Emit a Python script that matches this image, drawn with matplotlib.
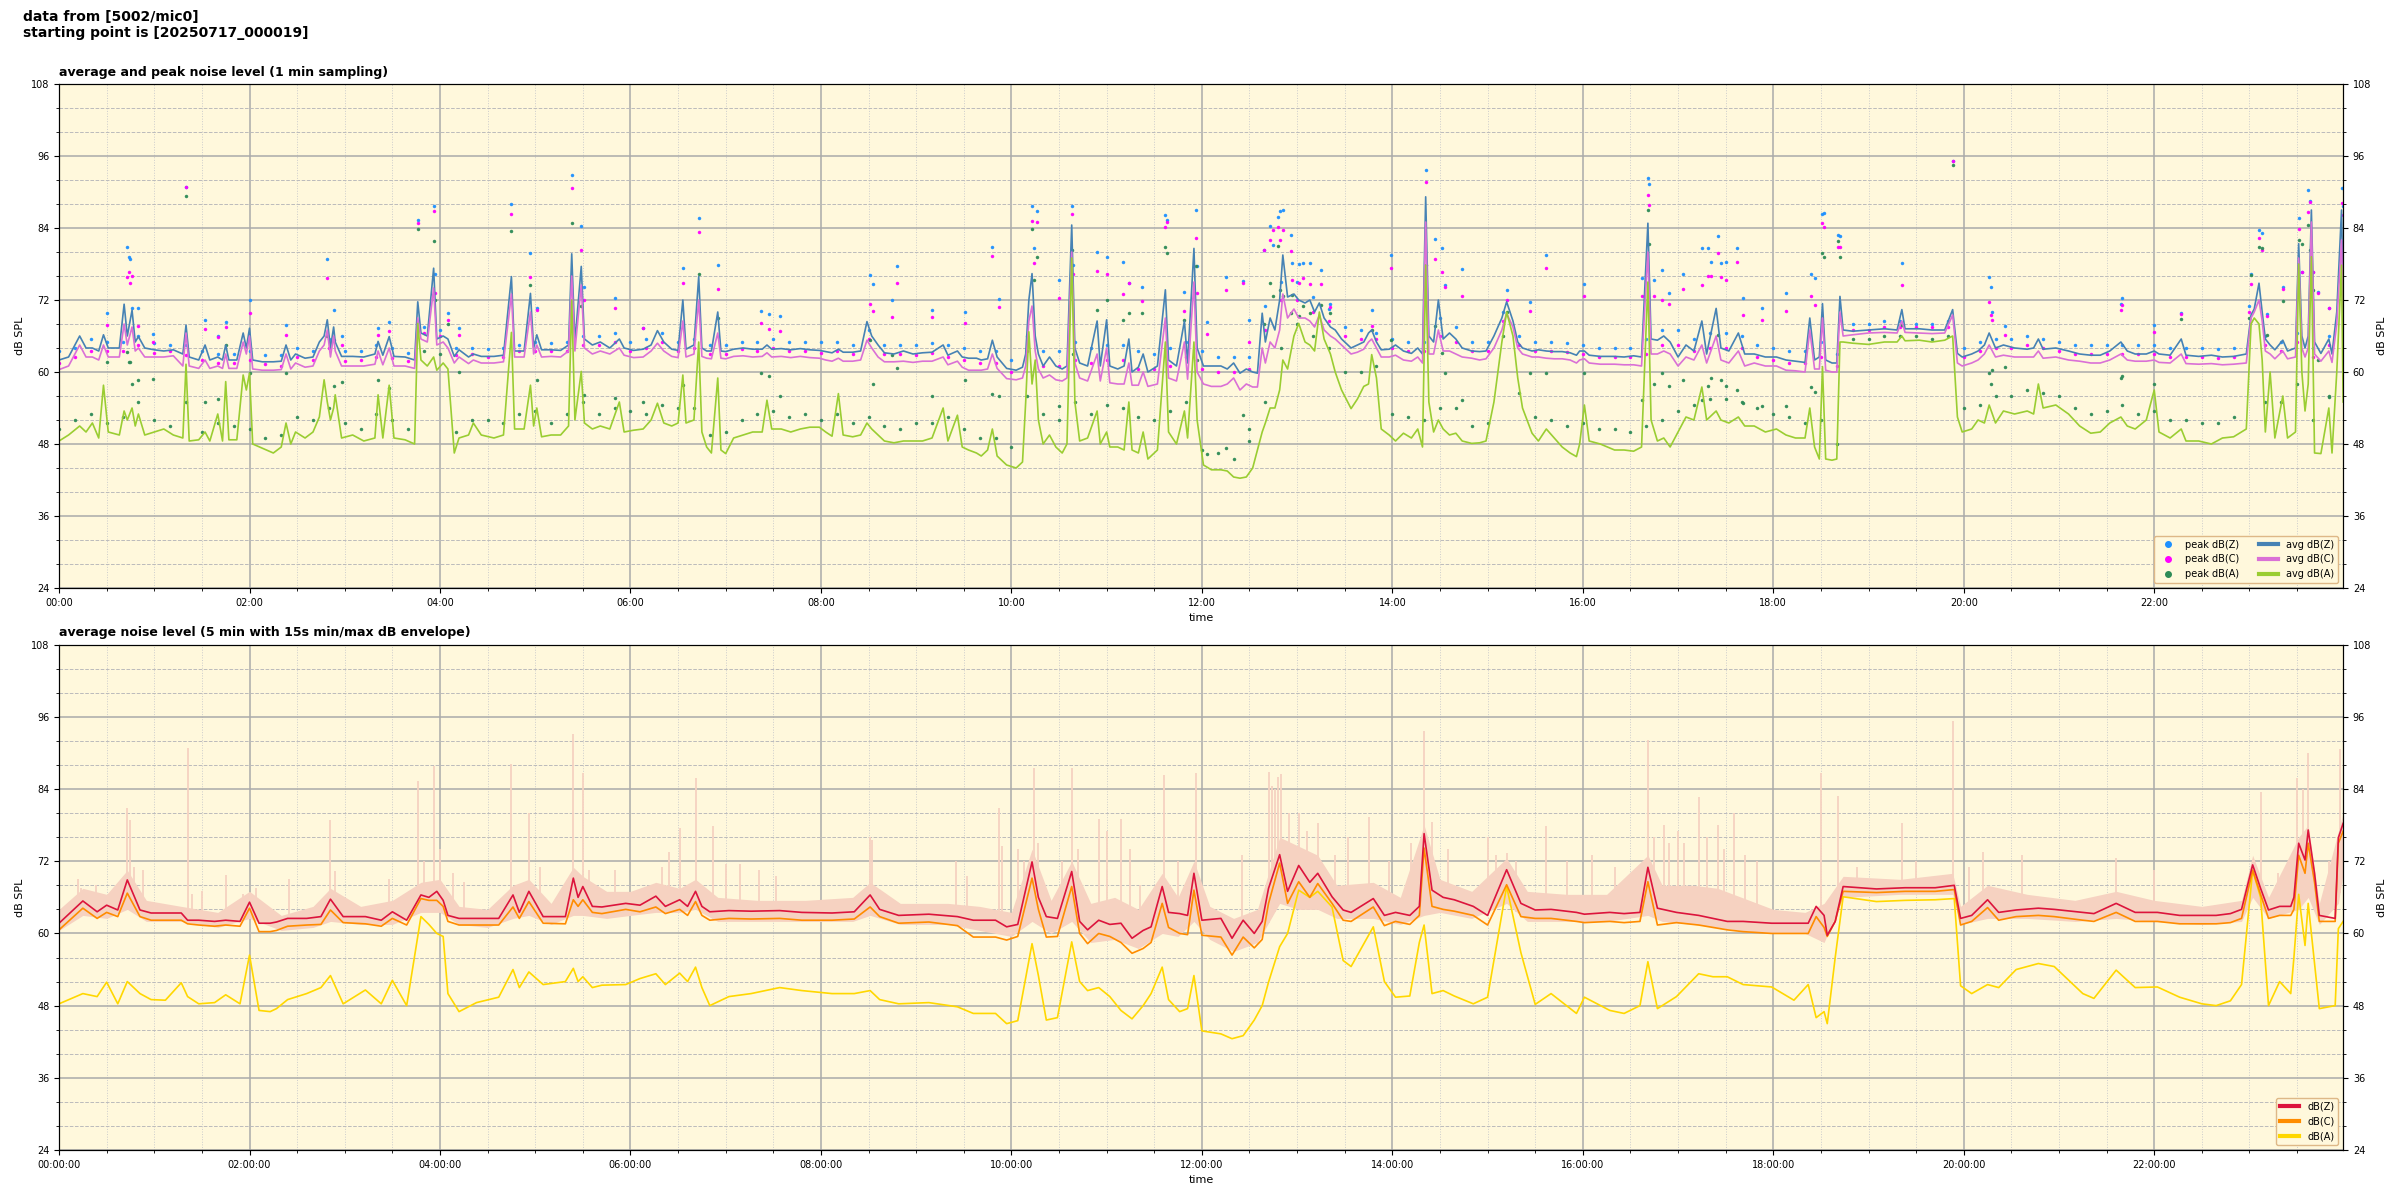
import numpy as np
import matplotlib
matplotlib.use("Agg")
import matplotlib.pyplot as plt
from matplotlib.lines import Line2D
from matplotlib.ticker import MultipleLocator, FuncFormatter

# ---- top panel: 1 min averages (minutes after midnight) ----
top_t = [0, 6, 13, 17, 21, 25, 28, 31, 38, 41,
         43, 46, 48, 50, 54, 60, 66, 72, 78, 80,
         82, 88, 92, 95, 100, 103, 105, 107, 112, 116,
         118, 120, 122, 128, 135, 140, 143, 146, 149, 155,
         160, 164, 167, 169, 171, 173, 174, 178, 185, 192,
         199, 201, 204, 208, 211, 218, 224, 226, 228, 232,
         236, 238, 242, 245, 249, 252, 258, 261, 266, 274,
         280, 285, 287, 293, 297, 299, 301, 304, 310, 316,
         321, 323, 325, 329, 331, 336, 341, 347, 353, 356,
         362, 368, 373, 377, 381, 386, 390, 393, 395, 400,
         403, 405, 408, 411, 415, 417, 420, 425, 431, 437,
         443, 446, 449, 455, 461, 467, 473, 479, 483, 487,
         491, 494, 500, 505, 509, 512, 516, 520, 526, 532,
         538, 544, 550, 557, 560, 566, 569, 573, 578, 581,
         585, 588, 591, 597, 603, 607, 609, 611, 613, 615,
         617, 620, 624, 628, 632, 635, 638, 640, 643, 648,
         654, 656, 660, 662, 667, 671, 674, 676, 680, 683,
         686, 692, 697, 699, 704, 709, 711, 715, 717, 721,
         726, 732, 736, 740, 744, 748, 752, 755, 758, 760,
         763, 766, 769, 771, 774, 778, 781, 785, 788, 791,
         794, 797, 801, 804, 808, 814, 818, 822, 825, 827,
         830, 833, 838, 842, 847, 852, 856, 859, 861, 863,
         866, 869, 872, 876, 880, 884, 890, 895, 899, 904,
         909, 912, 916, 919, 922, 928, 932, 937, 942, 947,
         952, 956, 958, 961, 964, 971, 980, 986, 992, 997,
         1001, 1003, 1007, 1011, 1015, 1020, 1025, 1030, 1035, 1038,
         1044, 1047, 1052, 1058, 1062, 1068, 1075, 1082, 1088, 1094,
         1100, 1103, 1106, 1109, 1111, 1113, 1117, 1120, 1122, 1124,
         1130, 1140, 1150, 1158, 1161, 1163, 1172, 1180, 1188, 1193,
         1196, 1199, 1205, 1209, 1213, 1216, 1220, 1225, 1232, 1240,
         1244, 1247, 1250, 1258, 1266, 1273, 1280, 1286, 1292, 1299,
         1303, 1308, 1315, 1320, 1323, 1330, 1337, 1340, 1348, 1356,
         1363, 1370, 1378, 1381, 1383, 1386, 1388, 1390, 1393, 1396,
         1401, 1404, 1409, 1411, 1413, 1415, 1417, 1419, 1421, 1425,
         1430, 1432, 1435, 1438, 1439]
top_z = [62.0, 62.5, 66.0, 64.0, 64.0, 63.5, 66.2, 64.0, 64.0, 71.3,
         66.0, 70.3, 65.0, 65.9, 64.0, 63.7, 63.5, 63.7, 63.0, 67.8,
         62.5, 62.0, 64.5, 62.0, 62.5, 62.0, 64.5, 62.0, 62.0, 66.5,
         64.0, 67.3, 62.0, 61.7, 61.7, 61.8, 64.5, 62.0, 63.0, 62.3,
         62.5, 65.0, 66.0, 68.7, 64.0, 67.5, 65.0, 62.6, 62.6, 62.5,
         63.0, 65.1, 62.8, 65.9, 62.6, 62.5, 62.0, 71.7, 66.5, 66.0,
         77.3, 65.5, 66.0, 65.5, 62.6, 63.7, 62.5, 63.0, 62.6, 62.6,
         62.8, 75.9, 63.5, 63.5, 73.1, 64.0, 66.2, 63.7, 63.7, 63.6,
         64.5, 79.7, 65.0, 77.6, 65.5, 64.5, 65.0, 64.0, 65.5, 64.0,
         63.6, 63.8, 64.5, 66.9, 65.0, 63.8, 63.6, 72.0, 63.8, 64.5,
         75.9, 64.0, 63.5, 63.5, 70.0, 63.5, 63.4, 63.8, 64.0, 63.8,
         63.8, 64.5, 63.8, 63.9, 63.7, 63.9, 63.7, 63.6, 63.4, 63.2,
         63.8, 63.3, 63.3, 63.5, 68.4, 66.0, 64.5, 63.2, 63.0, 63.5,
         63.0, 63.2, 63.3, 64.5, 62.8, 63.5, 62.5, 62.3, 62.3, 62.0,
         62.2, 65.3, 62.5, 60.6, 60.3, 60.8, 63.0, 72.0, 76.4, 66.0,
         63.0, 61.0, 62.5, 61.0, 60.5, 61.0, 84.5, 64.0, 61.5, 61.0,
         68.5, 61.0, 68.7, 61.0, 60.5, 61.0, 65.5, 60.0, 60.8, 63.0,
         60.0, 61.0, 73.7, 62.0, 61.0, 68.5, 61.5, 80.6, 64.0, 61.0,
         61.0, 61.0, 60.5, 61.5, 59.8, 60.5, 60.0, 59.8, 69.8, 65.0,
         69.0, 67.0, 72.0, 79.5, 72.5, 73.0, 72.0, 71.5, 72.0, 70.0,
         71.5, 69.0, 67.5, 67.0, 65.5, 64.0, 64.5, 65.0, 66.5, 67.0,
         65.0, 63.7, 63.8, 64.5, 63.5, 63.1, 64.0, 63.0, 89.2, 66.0,
         65.0, 72.0, 65.5, 66.5, 65.5, 64.0, 63.5, 63.4, 63.5, 66.0,
         69.0, 71.7, 68.5, 65.0, 64.0, 63.5, 63.7, 63.5, 63.4, 63.4,
         63.2, 62.8, 63.5, 63.5, 62.8, 62.6, 62.6, 62.5, 62.7, 62.5,
         84.8, 65.5, 65.3, 66.0, 65.0, 62.5, 64.5, 63.5, 68.5, 63.0,
         70.6, 64.0, 63.5, 66.5, 63.0, 63.0, 62.5, 62.5, 62.0, 61.8,
         61.6, 69.0, 62.0, 62.5, 71.4, 62.0, 61.5, 61.5, 72.6, 67.0,
         66.8, 67.0, 67.2, 67.0, 70.4, 67.2, 67.2, 67.0, 67.0, 70.4,
         63.1, 62.5, 63.0, 63.5, 64.5, 66.5, 64.0, 64.5, 64.0, 63.8,
         64.0, 65.5, 63.8, 64.0, 63.5, 63.0, 62.8, 62.8, 63.5, 65.0,
         63.5, 63.0, 63.0, 63.5, 63.0, 62.8, 65.5, 62.8, 62.6, 62.8,
         62.5, 62.6, 63.0, 69.5, 70.5, 74.8, 70.0, 65.5, 64.5, 63.7,
         65.3, 63.5, 64.0, 81.4, 66.0, 64.0, 66.0, 87.0, 65.0, 63.1,
         65.5, 63.0, 70.0, 87.0, 72.0]
top_c = [60.4, 61.0, 64.5, 62.5, 62.5, 62.0, 64.5, 62.5, 62.5, 68.0,
         64.5, 67.5, 63.5, 64.0, 62.5, 62.5, 62.5, 62.7, 61.0, 66.5,
         61.0, 60.6, 62.0, 60.6, 61.0, 60.6, 63.0, 60.6, 60.6, 65.0,
         63.0, 66.0, 60.5, 60.3, 60.3, 60.4, 63.0, 60.5, 61.5, 60.8,
         61.0, 63.5, 64.5, 67.0, 62.5, 66.0, 63.5, 61.0, 61.0, 61.0,
         61.3, 63.5, 61.2, 64.0, 61.0, 61.0, 60.6, 69.0, 65.5, 65.0,
         74.0, 64.5, 65.0, 64.0, 61.5, 62.5, 61.4, 62.0, 61.5, 61.5,
         61.7, 73.0, 62.5, 62.5, 70.0, 63.0, 64.5, 62.5, 62.6, 62.5,
         63.5, 76.0, 63.5, 74.5, 64.0, 63.0, 63.5, 63.0, 64.0, 62.8,
         62.4, 62.5, 63.5, 64.8, 63.5, 62.6, 62.4, 68.5, 62.5, 63.0,
         72.0, 62.6, 62.3, 62.2, 66.5, 62.3, 62.2, 62.6, 62.7, 62.5,
         62.6, 63.2, 62.5, 62.6, 62.4, 62.6, 62.4, 62.3, 62.0, 61.8,
         62.3, 61.8, 61.8, 62.0, 65.3, 64.0, 62.5, 61.7, 61.7, 61.8,
         61.6, 61.8, 61.8, 62.5, 61.2, 61.8, 60.8, 60.3, 60.3, 60.3,
         60.5, 63.0, 60.6, 58.9, 58.7, 59.0, 61.0, 68.5, 71.0, 63.5,
         60.5, 59.0, 59.5, 58.7, 58.5, 59.0, 80.0, 61.5, 59.0, 58.5,
         63.0, 58.5, 64.0, 58.2, 58.0, 58.0, 61.5, 57.8, 57.8, 60.0,
         57.6, 58.0, 69.0, 59.0, 58.5, 65.0, 58.8, 75.0, 60.0, 58.0,
         57.6, 57.6, 58.0, 59.0, 57.0, 58.0, 57.5, 57.5, 64.0, 61.5,
         65.0, 64.0, 67.0, 73.0, 69.0, 70.5, 69.0, 69.0, 68.5, 67.5,
         69.5, 67.0, 66.0, 65.5, 64.5, 63.0, 63.3, 63.8, 65.0, 65.5,
         64.0, 62.5, 62.5, 62.8, 62.0, 61.8, 62.5, 61.5, 85.0, 63.0,
         63.0, 67.0, 63.5, 63.5, 63.0, 62.5, 62.3, 62.0, 62.2, 64.0,
         67.0, 69.8, 67.5, 64.0, 63.0, 62.5, 62.5, 62.3, 62.2, 62.2,
         62.0, 61.5, 62.0, 62.2, 61.5, 61.3, 61.3, 61.2, 61.2, 61.0,
         80.0, 63.0, 63.0, 63.5, 63.0, 61.0, 62.5, 62.0, 64.5, 61.5,
         66.0, 62.0, 61.5, 63.5, 61.0, 61.5, 61.0, 61.0, 60.3, 60.2,
         60.0, 67.0, 60.5, 60.5, 69.0, 60.3, 60.0, 60.0, 70.0, 66.0,
         66.2, 66.5, 66.6, 66.5, 68.5, 66.6, 66.5, 66.4, 66.5, 69.5,
         61.5, 61.0, 61.5, 62.0, 63.0, 64.5, 62.5, 62.8, 62.5, 62.5,
         62.5, 63.5, 62.3, 62.5, 62.0, 61.8, 61.5, 61.5, 62.0, 63.0,
         62.0, 61.8, 61.8, 62.0, 61.6, 61.5, 63.0, 61.4, 61.3, 61.4,
         61.2, 61.3, 61.5, 69.0, 70.0, 72.0, 68.5, 63.5, 63.0, 62.2,
         63.5, 62.2, 62.5, 79.0, 64.0, 62.5, 64.0, 85.0, 63.0, 61.8,
         63.5, 61.6, 68.0, 82.0, 70.0]
top_a = [48.5, 49.5, 51.0, 50.0, 51.5, 49.0, 57.8, 50.0, 49.5, 53.5,
         52.0, 54.0, 51.0, 53.0, 49.5, 50.0, 50.5, 49.5, 49.0, 61.3,
         48.5, 48.7, 50.0, 48.5, 53.0, 48.5, 58.4, 48.7, 48.7, 59.5,
         57.0, 59.8, 48.0, 47.3, 46.5, 47.5, 51.5, 48.0, 50.0, 49.0,
         50.0, 52.5, 58.7, 55.0, 52.0, 54.0, 56.2, 49.0, 49.5, 48.5,
         49.0, 56.2, 49.0, 57.8, 49.0, 48.7, 48.0, 68.1, 62.0, 61.0,
         62.5, 60.3, 61.5, 60.5, 46.5, 49.0, 49.5, 51.5, 49.5, 49.0,
         49.5, 66.6, 50.5, 50.5, 57.8, 51.0, 54.0, 49.2, 49.5, 49.5,
         51.0, 72.0, 52.0, 60.1, 51.5, 50.5, 51.0, 50.5, 55.0, 50.0,
         50.3, 50.5, 52.0, 54.8, 51.5, 51.0, 51.5, 59.5, 51.5, 52.0,
         65.0, 50.0, 47.5, 46.5, 59.0, 47.0, 46.4, 49.0, 49.5, 50.0,
         50.0, 55.3, 50.5, 50.5, 50.0, 50.5, 50.8, 50.8, 50.0, 49.3,
         56.4, 49.5, 49.2, 49.5, 51.5, 50.5, 49.5, 48.5, 48.2, 48.5,
         48.5, 48.5, 49.0, 54.0, 48.5, 52.8, 47.5, 47.0, 46.5, 46.0,
         47.0, 50.5, 46.0, 44.5, 44.0, 45.0, 55.0, 66.7, 58.0, 62.0,
         52.0, 48.0, 49.5, 47.5, 46.5, 48.0, 79.0, 55.0, 48.5, 49.0,
         53.5, 48.0, 50.0, 47.5, 47.5, 47.0, 55.0, 47.0, 46.5, 50.0,
         45.5, 47.0, 65.0, 50.0, 48.0, 53.5, 49.0, 65.0, 52.0, 44.5,
         43.7, 43.7, 43.5, 42.5, 42.3, 42.5, 44.0, 47.0, 50.0, 51.5,
         54.0, 54.0, 57.0, 62.0, 60.5, 66.0, 68.1, 65.0, 64.5, 63.5,
         70.0, 65.5, 63.0, 60.0, 57.0, 53.9, 55.5, 57.6, 58.0, 62.9,
         59.0, 50.5, 49.5, 48.5, 49.8, 49.0, 50.5, 47.5, 77.8, 55.0,
         50.0, 52.0, 50.5, 49.5, 49.8, 48.5, 48.1, 48.2, 48.5, 55.0,
         65.0, 70.0, 66.0, 59.0, 54.0, 49.8, 48.5, 50.5, 49.0, 47.5,
         46.5, 45.9, 48.0, 54.5, 48.5, 48.0, 47.0, 47.0, 46.8, 47.5,
         75.0, 52.0, 48.5, 49.0, 47.5, 50.0, 52.5, 52.0, 57.5, 52.0,
         53.5, 52.0, 51.5, 52.5, 51.0, 51.0, 50.0, 50.5, 49.5, 49.0,
         49.0, 54.0, 47.5, 45.5, 60.9, 45.5, 45.3, 45.5, 65.0, 65.0,
         64.8, 64.6, 65.0, 65.0, 66.0, 65.2, 65.3, 65.0, 65.3, 66.0,
         52.5, 50.0, 50.5, 52.0, 51.5, 54.5, 51.5, 53.5, 53.0, 53.5,
         53.0, 58.0, 54.0, 54.5, 53.0, 51.0, 49.8, 50.0, 51.5, 52.5,
         51.0, 50.5, 52.0, 57.0, 50.0, 49.0, 50.5, 48.5, 48.5, 48.0,
         49.0, 49.2, 50.5, 68.0, 69.0, 68.0, 62.0, 50.0, 60.0, 49.0,
         56.0, 49.0, 50.0, 78.0, 60.0, 53.5, 58.0, 79.2, 46.5, 46.4,
         54.0, 46.5, 60.0, 77.8, 55.0]

# ---- top panel: per-minute peaks, read at 20 min steps ----
peak_t = [0, 20, 40, 60, 80, 100, 120, 140, 160, 180,
          200, 220, 240, 260, 280, 300, 320, 340, 360, 380,
          400, 420, 440, 460, 480, 500, 520, 540, 560, 580,
          600, 620, 640, 660, 680, 700, 720, 740, 760, 780,
          800, 820, 840, 860, 880, 900, 920, 940, 960, 980,
          1000, 1020, 1040, 1060, 1080, 1100, 1120, 1140, 1160, 1180,
          1200, 1220, 1240, 1260, 1280, 1300, 1320, 1340, 1360, 1380,
          1400, 1420]
peak_z = [63.5, 65.5, 65.0, 64.8, 64.5, 63.0, 63.5, 62.8, 63.5, 63.5,
          64.5, 63.2, 67.0, 64.0, 64.0, 65.0, 65.0, 66.0, 65.0, 66.5,
          65.5, 64.5, 65.0, 65.0, 65.0, 64.5, 64.5, 64.5, 64.5, 63.5,
          62.0, 63.5, 65.0, 64.5, 63.5, 64.0, 63.5, 62.5, 71.0, 75.0,
          70.5, 67.0, 65.5, 65.0, 67.5, 65.0, 66.0, 65.0, 64.5, 64.0,
          65.5, 67.0, 66.5, 66.0, 64.0, 63.5, 63.0, 68.0, 68.5, 68.0,
          64.0, 65.5, 66.0, 65.0, 64.5, 64.5, 64.5, 64.0, 63.8, 71.0,
          65.0, 64.0]
peak_c = [61.5, 63.5, 63.5, 63.2, 62.8, 61.5, 62.0, 61.0, 62.0, 61.8,
          62.5, 61.8, 66.0, 63.0, 62.5, 63.5, 63.5, 64.5, 63.5, 65.0,
          64.0, 63.0, 63.5, 63.5, 63.2, 63.0, 63.0, 62.8, 62.5, 61.5,
          60.0, 61.0, 62.0, 62.0, 60.5, 61.0, 60.5, 60.0, 67.0, 72.0,
          68.5, 65.5, 64.0, 63.5, 65.0, 63.5, 64.5, 63.5, 63.0, 62.5,
          63.0, 64.5, 64.0, 64.0, 62.0, 61.5, 61.0, 67.0, 67.5, 67.5,
          62.5, 64.0, 64.5, 63.5, 63.0, 63.0, 63.0, 62.5, 62.3, 70.0,
          63.5, 62.5]
peak_a = [50.5, 53.0, 52.5, 52.0, 55.0, 51.5, 50.5, 49.5, 52.0, 51.5,
          53.0, 50.5, 63.0, 52.0, 51.5, 53.5, 53.0, 53.0, 53.5, 54.5,
          54.0, 50.0, 53.0, 52.5, 52.0, 51.5, 51.0, 51.5, 52.5, 49.0,
          47.5, 53.0, 55.0, 54.5, 52.5, 53.5, 47.0, 45.5, 55.0, 68.0,
          64.0, 60.0, 53.0, 52.0, 54.0, 51.5, 56.5, 52.0, 51.5, 50.5,
          51.0, 53.5, 55.5, 55.0, 53.0, 51.5, 48.0, 65.5, 66.0, 65.5,
          54.0, 56.0, 57.0, 56.0, 53.0, 54.5, 53.5, 52.0, 51.5, 69.0,
          55.0, 52.0]

# same, the in-between 10 min marks
peak2_t = [10, 30, 50, 70, 90, 110, 130, 150, 170, 190,
           210, 230, 250, 270, 290, 310, 330, 350, 370, 390,
           410, 430, 450, 470, 490, 510, 530, 550, 570, 590,
           610, 630, 650, 670, 690, 710, 730, 750, 770, 790,
           810, 830, 850, 870, 890, 910, 930, 950, 970, 990,
           1010, 1030, 1050, 1070, 1090, 1110, 1130, 1150, 1170, 1190,
           1210, 1230, 1250, 1270, 1290, 1310, 1330, 1350, 1370, 1390,
           1410, 1430]
peak2_z = [64.0, 65.0, 66.0, 64.5, 63.5, 63.0, 62.8, 64.0, 65.5, 63.5,
           64.0, 67.5, 64.0, 63.8, 64.5, 64.8, 66.0, 66.5, 65.5, 65.0,
           64.5, 65.0, 65.5, 65.0, 65.0, 67.0, 64.5, 64.8, 64.0, 63.5,
           66.0, 63.5, 64.0, 64.5, 63.0, 65.0, 62.5, 62.5, 75.0, 72.5,
           67.5, 66.5, 65.0, 69.0, 65.0, 70.0, 65.0, 64.8, 64.0, 64.0,
           67.0, 65.5, 66.5, 64.5, 63.5, 65.0, 68.0, 68.5, 68.0, 68.5,
           65.0, 65.5, 65.5, 64.5, 64.5, 64.5, 64.0, 64.0, 64.0, 66.0,
           66.5, 66.0]
peak2_c = [62.5, 63.5, 64.5, 63.5, 62.0, 61.5, 61.3, 62.5, 64.0, 62.0,
           62.3, 66.5, 62.8, 62.5, 63.5, 63.5, 64.5, 65.0, 64.0, 63.5,
           63.0, 63.8, 64.0, 63.5, 63.5, 65.5, 63.0, 63.2, 62.0, 61.5,
           63.5, 61.0, 61.5, 62.0, 60.5, 62.5, 60.0, 60.5, 72.0, 70.0,
           66.0, 65.5, 63.5, 66.0, 63.5, 68.5, 63.5, 63.3, 62.5, 62.5,
           64.5, 63.5, 64.0, 62.5, 61.5, 62.5, 67.0, 67.5, 67.5, 67.5,
           63.5, 64.0, 64.0, 63.0, 63.0, 63.0, 62.5, 62.5, 62.5, 64.5,
           65.0, 64.5]
peak2_a = [52.0, 51.5, 55.0, 51.0, 50.0, 51.0, 49.0, 52.5, 54.0, 50.5,
           52.0, 63.5, 50.0, 52.0, 53.0, 51.5, 55.0, 54.0, 53.0, 54.0,
           49.5, 52.0, 53.5, 53.0, 53.0, 52.5, 50.5, 51.5, 50.5, 49.0,
           56.0, 52.0, 53.0, 54.0, 52.0, 55.0, 46.5, 48.5, 64.0, 66.0,
           60.0, 61.0, 52.5, 54.0, 51.0, 66.0, 52.5, 51.0, 50.5, 50.0,
           52.0, 54.5, 55.5, 54.0, 52.5, 52.0, 65.5, 66.0, 66.0, 66.0,
           54.5, 56.0, 56.5, 54.0, 53.5, 53.0, 52.0, 51.5, 52.5, 55.0,
           58.0, 56.0]

# peak outliers
spk_t = [30, 43, 44, 45, 46, 50, 59, 80, 92, 100,
         105, 120, 143, 169, 173, 178, 201, 208, 226, 236,
         237, 245, 252, 285, 297, 301, 323, 329, 331, 350,
         368, 393, 403, 415, 442, 447, 454, 511, 513, 525,
         528, 550, 571, 588, 592, 613, 614, 616, 630, 638,
         639, 654, 660, 670, 674, 682, 697, 698, 709, 716,
         717, 723, 735, 746, 750, 759, 763, 765, 768, 769,
         771, 776, 777, 781, 784, 788, 795, 801, 827, 839,
         861, 867, 871, 873, 884, 912, 927, 937, 961, 997,
         1001, 1002, 1005, 1010, 1014, 1023, 1035, 1039, 1041, 1045,
         1047, 1050, 1057, 1061, 1073, 1088, 1104, 1106, 1111, 1112,
         1121, 1122, 1161, 1193, 1216, 1217, 1218, 1226, 1299, 1300,
         1320, 1337, 1381, 1386, 1388, 1391, 1401, 1411, 1413, 1417,
         1418, 1420, 1423, 1430, 1438, 1439]
spk_z = [69.9, 80.9, 79.1, 78.8, 70.6, 70.6, 66.4, 90.8, 68.7, 66.0,
         68.4, 72.0, 67.8, 78.8, 70.3, 66.0, 67.3, 68.4, 85.3, 87.7,
         76.4, 69.8, 67.4, 88.0, 79.8, 70.6, 92.8, 84.3, 74.2, 72.3,
         67.4, 77.3, 85.6, 77.8, 70.1, 69.6, 69.3, 76.2, 74.7, 72.0,
         77.7, 70.4, 70.0, 80.8, 72.1, 87.6, 80.6, 86.8, 75.3, 87.6,
         77.8, 80.0, 79.2, 78.3, 74.9, 74.1, 86.1, 85.3, 73.4, 87.0,
         77.7, 68.4, 75.9, 75.1, 68.7, 80.3, 84.4, 81.2, 85.9, 86.9,
         87.0, 82.8, 78.1, 78.0, 78.1, 78.2, 77.0, 71.4, 70.3, 79.5,
         93.7, 82.1, 80.6, 74.5, 77.1, 73.7, 71.7, 79.5, 74.7, 75.6,
         92.3, 91.3, 75.3, 77.0, 73.2, 76.4, 80.6, 80.6, 78.4, 82.7,
         78.2, 78.4, 80.6, 72.3, 70.6, 73.2, 76.4, 75.6, 86.3, 86.5,
         82.9, 82.6, 78.1, 95.2, 75.9, 74.2, 70.0, 67.6, 71.4, 72.3,
         67.8, 69.9, 76.4, 83.7, 83.2, 69.6, 74.2, 85.6, 76.7, 90.3,
         88.5, 76.7, 73.4, 70.6, 90.6, 87.6]
spk_c = [67.8, 75.9, 76.7, 74.8, 76.0, 67.6, 65.0, 90.8, 67.1, 65.8,
         67.5, 69.8, 66.2, 75.6, 65.3, 64.5, 66.2, 66.8, 84.8, 86.8,
         73.1, 68.7, 66.2, 86.4, 75.9, 70.3, 90.6, 80.4, 72.0, 70.6,
         67.3, 74.8, 83.3, 73.9, 68.2, 67.1, 66.8, 71.4, 70.1, 69.1,
         74.9, 69.2, 68.2, 79.4, 70.9, 85.2, 78.2, 85.0, 72.3, 86.3,
         76.4, 76.9, 76.4, 73.0, 74.8, 71.9, 84.1, 85.0, 70.1, 82.3,
         73.1, 66.3, 73.7, 74.8, 65.0, 80.3, 82.0, 83.6, 84.1, 82.0,
         83.6, 80.1, 75.3, 74.8, 75.6, 74.7, 74.6, 70.9, 67.6, 77.3,
         91.6, 78.8, 76.7, 74.2, 72.6, 72.0, 70.1, 77.3, 72.7, 72.6,
         89.5, 87.8, 72.6, 72.0, 71.3, 73.9, 74.5, 76.0, 76.0, 79.9,
         75.8, 75.3, 78.4, 69.5, 68.7, 70.2, 72.6, 71.2, 84.8, 84.1,
         80.9, 80.8, 74.5, 95.2, 71.7, 69.5, 68.7, 66.2, 70.3, 71.2,
         66.7, 69.7, 74.7, 82.3, 80.4, 69.3, 73.9, 83.8, 76.7, 86.7,
         88.4, 76.7, 73.1, 70.6, 88.1, 86.2]
spk_a = [61.7, 63.4, 61.7, 61.7, 58.0, 58.7, 58.8, 89.4, 55.0, 55.5,
         64.5, 59.8, 59.8, 66.0, 57.6, 58.4, 58.7, 57.3, 83.8, 81.8,
         72.0, 68.0, 60.0, 83.5, 74.5, 58.7, 84.8, 71.0, 56.2, 55.7,
         55.0, 57.8, 76.4, 69.0, 59.9, 59.3, 56.0, 65.3, 58.0, 62.9,
         60.7, 56.0, 58.7, 56.4, 56.0, 83.8, 75.4, 79.2, 54.4, 80.3,
         63.0, 70.3, 72.0, 68.7, 69.8, 69.8, 80.9, 79.8, 68.7, 77.6,
         62.0, 46.4, 47.3, 52.8, 50.5, 68.0, 74.8, 72.6, 81.0, 73.7,
         72.6, 69.8, 72.8, 69.3, 71.0, 69.8, 71.2, 69.8, 67.0, 65.3,
         77.8, 67.7, 63.1, 59.8, 55.3, 70.0, 59.8, 59.8, 59.8, 55.3,
         87.0, 81.3, 58.0, 59.8, 57.6, 58.7, 55.3, 57.6, 59.0, 66.1,
         58.7, 57.6, 57.0, 54.8, 54.4, 54.4, 57.5, 56.7, 79.8, 79.2,
         81.8, 79.2, 67.8, 94.5, 59.8, 58.0, 60.3, 60.9, 59.0, 59.3,
         58.0, 68.9, 76.1, 80.9, 80.6, 66.1, 71.9, 82.0, 81.4, 84.5,
         80.3, 73.7, 62.0, 55.8, 81.7, 77.8]

# ---- bottom panel: 5 min averages ----
bot_t = [0, 15, 24, 30, 37, 43, 51, 58, 67, 77,
         81, 88, 98, 105, 114, 120, 126, 133, 137, 144,
         156, 165, 171, 179, 193, 203, 210, 219, 228, 233,
         238, 242, 245, 252, 263, 277, 286, 290, 296, 305,
         319, 324, 327, 330, 336, 342, 357, 366, 376, 382,
         391, 396, 401, 405, 410, 422, 436, 454, 468, 487,
         501, 511, 517, 529, 548, 566, 576, 590, 597, 604,
         613, 617, 622, 629, 638, 643, 648, 655, 662, 669,
         676, 683, 688, 695, 699, 706, 711, 715, 720, 732,
         739, 746, 753, 758, 762, 769, 774, 781, 788, 793,
         802, 809, 814, 828, 835, 842, 851, 857, 860, 865,
         872, 879, 891, 900, 912, 921, 930, 940, 956, 961,
         977, 986, 996, 1001, 1007, 1019, 1033, 1042, 1051, 1061,
         1079, 1093, 1102, 1107, 1112, 1114, 1119, 1124, 1145, 1163,
         1182, 1194, 1198, 1205, 1215, 1222, 1233, 1247, 1257, 1275,
         1282, 1296, 1308, 1322, 1336, 1350, 1359, 1368, 1375, 1382,
         1387, 1392, 1399, 1406, 1408, 1411, 1415, 1417, 1421, 1424,
         1434, 1436, 1439]
bot_z = [61.7, 65.4, 63.6, 64.7, 63.9, 68.9, 63.9, 63.4, 63.4, 63.4,
         62.2, 62.2, 62.0, 62.2, 62.0, 65.2, 61.7, 61.7, 61.9, 62.5,
         62.5, 62.8, 65.7, 62.8, 62.8, 62.2, 63.6, 62.2, 66.4, 66.0,
         67.0, 65.5, 63.0, 62.5, 62.5, 62.5, 66.4, 63.5, 67.0, 62.8,
         62.8, 69.2, 66.0, 67.8, 64.5, 64.4, 65.0, 64.7, 66.2, 64.5,
         65.6, 64.5, 67.0, 64.5, 63.6, 63.8, 63.7, 63.8, 63.5, 63.4,
         63.6, 66.4, 64.0, 63.0, 63.2, 62.8, 62.2, 62.2, 61.1, 61.5,
         71.9, 66.0, 62.8, 62.5, 70.3, 62.0, 60.6, 62.2, 61.5, 61.7,
         59.2, 60.5, 61.1, 67.8, 63.5, 63.3, 63.0, 70.0, 62.2, 62.5,
         59.2, 62.2, 60.0, 62.0, 67.5, 73.1, 67.0, 71.3, 68.5, 70.0,
         66.1, 63.9, 63.5, 65.8, 63.0, 63.5, 63.0, 64.5, 76.6, 67.2,
         66.0, 65.6, 64.5, 63.0, 70.6, 65.0, 63.9, 64.0, 63.5, 63.2,
         63.5, 63.3, 63.5, 71.0, 64.2, 63.5, 63.0, 62.5, 62.0, 62.0,
         61.7, 61.7, 61.7, 64.5, 63.0, 59.7, 62.0, 67.8, 67.4, 67.6,
         67.6, 68.0, 62.5, 63.0, 65.6, 63.5, 63.9, 64.2, 64.0, 63.5,
         63.3, 65.0, 63.5, 63.5, 63.0, 63.0, 63.0, 63.3, 64.0, 71.4,
         67.5, 63.9, 64.5, 64.5, 66.0, 75.0, 72.2, 77.2, 70.0, 63.0,
         62.5, 75.9, 78.3]
bot_c = [60.6, 64.2, 62.5, 63.5, 62.8, 66.7, 62.8, 62.2, 62.2, 62.2,
         61.6, 61.4, 61.2, 61.4, 61.2, 64.2, 60.3, 60.3, 60.5, 61.2,
         61.4, 61.5, 63.9, 61.8, 61.6, 61.2, 62.5, 61.4, 65.8, 65.5,
         65.5, 64.5, 62.0, 61.4, 61.4, 61.4, 64.4, 62.5, 65.3, 61.7,
         61.6, 65.6, 64.5, 65.6, 63.5, 63.3, 64.0, 63.6, 64.4, 63.3,
         64.0, 63.0, 65.3, 63.0, 62.2, 62.5, 62.4, 62.5, 62.2, 62.2,
         62.4, 64.4, 62.8, 61.7, 61.9, 61.3, 59.4, 59.4, 58.9, 59.5,
         69.2, 64.0, 59.4, 59.5, 67.8, 60.0, 58.3, 60.0, 59.5, 58.5,
         56.7, 57.5, 58.5, 65.0, 61.0, 60.0, 59.8, 67.2, 59.7, 59.4,
         56.4, 59.4, 57.6, 59.0, 65.0, 71.7, 65.0, 68.6, 66.0, 68.3,
         65.0, 62.2, 62.0, 64.4, 61.3, 62.0, 61.5, 63.0, 74.2, 64.5,
         64.0, 63.7, 63.0, 61.4, 68.1, 62.8, 62.5, 62.5, 62.0, 61.8,
         62.0, 61.8, 62.0, 68.6, 61.4, 61.8, 61.4, 61.0, 60.6, 60.3,
         60.0, 60.0, 60.0, 62.8, 61.0, 59.5, 62.0, 67.0, 66.8, 67.0,
         67.0, 67.3, 61.4, 62.0, 64.3, 62.2, 62.8, 63.0, 62.8, 62.2,
         62.0, 63.5, 62.0, 62.0, 61.6, 61.6, 61.6, 61.8, 62.5, 70.5,
         66.5, 62.5, 63.0, 63.0, 64.0, 73.0, 70.0, 75.0, 68.5, 62.0,
         62.0, 75.0, 77.0]
bot_a = [48.3, 50.0, 49.5, 51.9, 48.3, 52.0, 50.0, 49.0, 48.9, 51.8,
         49.5, 48.3, 48.5, 49.8, 48.3, 56.4, 47.2, 47.0, 47.5, 49.0,
         50.0, 51.0, 53.0, 48.3, 50.6, 48.3, 52.2, 48.0, 62.8, 61.5,
         60.0, 59.5, 50.0, 47.0, 48.5, 49.4, 54.0, 51.0, 53.6, 51.5,
         52.0, 54.2, 52.0, 52.8, 51.0, 51.4, 51.5, 52.5, 53.3, 51.5,
         53.4, 52.0, 54.4, 51.0, 48.0, 49.5, 50.0, 51.0, 50.5, 50.0,
         50.0, 50.5, 49.0, 48.3, 48.5, 47.8, 46.7, 46.7, 45.0, 45.5,
         58.3, 53.0, 45.6, 46.0, 58.6, 52.0, 50.5, 51.0, 49.5, 47.2,
         45.8, 48.0, 50.0, 54.4, 49.0, 47.0, 47.5, 53.0, 43.8, 43.3,
         42.5, 43.0, 45.6, 48.0, 51.9, 57.8, 60.0, 67.2, 66.0, 67.0,
         64.4, 55.5, 54.5, 61.1, 52.0, 49.4, 49.6, 58.5, 61.4, 50.0,
         50.5, 49.6, 48.3, 49.4, 67.8, 56.8, 48.2, 50.0, 46.7, 49.4,
         47.2, 46.7, 48.0, 55.3, 47.5, 49.5, 53.3, 52.8, 52.8, 51.5,
         51.1, 48.9, 51.5, 46.0, 47.0, 45.0, 56.0, 66.1, 65.3, 65.5,
         65.6, 65.8, 51.3, 50.0, 51.5, 51.0, 54.0, 55.0, 54.5, 50.0,
         49.2, 53.9, 51.0, 51.1, 49.4, 48.3, 48.0, 48.8, 51.5, 70.5,
         66.0, 48.0, 52.0, 50.0, 56.0, 66.5, 58.0, 65.0, 55.0, 47.5,
         48.0, 60.8, 62.0]

# ---- bottom panel: 15 s min/max envelope of dB(Z) ----
env_t = [0, 15, 30, 43, 55, 77, 100, 120, 140, 160,
         171, 190, 210, 228, 240, 252, 270, 286, 296, 310,
         324, 330, 345, 360, 376, 391, 401, 415, 440, 470,
         500, 511, 530, 560, 580, 600, 613, 625, 638, 650,
         665, 680, 695, 705, 715, 725, 740, 755, 769, 781,
         793, 805, 828, 845, 860, 870, 890, 912, 925, 950,
         975, 1001, 1010, 1030, 1045, 1060, 1080, 1100, 1112, 1124,
         1160, 1193, 1198, 1215, 1240, 1270, 1296, 1320, 1350, 1375,
         1382, 1392, 1411, 1417, 1424, 1436, 1439]
env_lo = [60.5, 63.0, 62.5, 64.0, 62.0, 62.0, 61.0, 62.5, 60.5, 61.0,
          62.0, 61.5, 61.5, 63.5, 63.5, 61.5, 61.0, 62.5, 63.0, 61.5,
          63.0, 63.0, 62.5, 63.0, 63.5, 63.5, 64.0, 62.0, 62.0, 62.0,
          62.0, 63.0, 61.5, 61.5, 60.5, 59.5, 62.0, 60.0, 62.0, 58.5,
          59.0, 57.5, 60.0, 59.5, 62.0, 59.0, 57.0, 58.5, 65.0, 64.0,
          64.0, 62.5, 62.5, 61.5, 63.0, 63.5, 62.5, 65.0, 62.0, 62.0,
          62.0, 63.0, 62.0, 61.5, 61.0, 60.5, 60.0, 60.0, 58.5, 66.0,
          66.5, 66.5, 61.5, 62.5, 62.5, 62.0, 62.5, 62.0, 61.5, 62.0,
          66.0, 62.5, 64.0, 66.0, 61.5, 65.0, 70.0]
env_hi = [64.0, 67.5, 66.5, 70.5, 65.5, 64.5, 63.5, 67.0, 63.0, 64.5,
          67.5, 64.5, 65.5, 68.5, 69.0, 64.5, 64.0, 68.0, 69.0, 65.0,
          71.0, 69.5, 67.0, 67.0, 68.5, 67.5, 69.0, 66.0, 65.5, 65.5,
          66.0, 68.5, 65.0, 65.0, 64.5, 63.5, 74.0, 65.5, 72.0, 65.0,
          66.0, 64.0, 70.0, 66.0, 72.0, 64.5, 62.5, 64.0, 76.0, 74.5,
          73.0, 68.0, 68.5, 66.0, 78.0, 69.0, 67.0, 72.5, 67.0, 66.5,
          66.5, 73.0, 68.0, 68.0, 67.5, 66.0, 64.0, 63.5, 65.0, 69.5,
          69.0, 70.0, 64.5, 68.0, 66.5, 65.5, 67.0, 65.5, 64.5, 65.5,
          73.0, 66.0, 76.0, 78.0, 65.0, 77.0, 80.0]

# short 15 s maxima sticking out of the envelope
env_spk_t = [12, 14, 23, 25, 43, 45, 47, 53, 81, 84,
             90, 105, 116, 124, 145, 171, 174, 208, 226, 230,
             236, 240, 248, 255, 285, 296, 303, 324, 330, 334,
             350, 380, 384, 391, 401, 412, 420, 429, 441, 452,
             511, 512, 565, 572, 592, 594, 604, 608, 614, 617,
             632, 638, 642, 655, 660, 669, 675, 681, 696, 705,
             716, 745, 762, 764, 766, 768, 770, 775, 781, 786,
             793, 804, 812, 825, 838, 852, 860, 865, 875, 900,
             905, 912, 918, 937, 950, 966, 980, 1001, 1005, 1011,
             1014, 1020, 1024, 1033, 1038, 1045, 1049, 1055, 1062, 1070,
             1110, 1121, 1133, 1161, 1170, 1193, 1203, 1212, 1237, 1296,
             1320, 1387, 1398, 1410, 1414, 1417, 1430, 1437]
env_spk_hi = [69.0, 67.5, 68.0, 66.5, 80.8, 78.9, 71.0, 70.5, 90.8, 66.5,
              67.0, 69.7, 66.5, 67.5, 69.0, 78.9, 70.3, 69.0, 85.3, 72.0,
              87.8, 74.0, 70.0, 68.5, 88.1, 80.0, 71.0, 93.1, 86.7, 70.5,
              70.5, 71.0, 73.5, 77.5, 85.8, 77.8, 71.5, 71.5, 70.5, 69.5,
              76.1, 75.5, 72.0, 69.5, 80.8, 74.5, 74.0, 72.0, 87.5, 75.0,
              72.0, 87.5, 74.0, 79.0, 77.0, 79.0, 74.0, 68.0, 86.4, 72.0,
              86.7, 73.0, 86.9, 84.5, 84.0, 86.0, 86.5, 80.0, 80.0, 77.0,
              78.3, 73.0, 76.0, 79.4, 72.0, 75.0, 93.6, 78.6, 74.0, 76.0,
              73.0, 73.3, 72.0, 77.8, 72.0, 73.0, 71.0, 92.2, 76.0, 78.0,
              75.0, 77.0, 75.0, 82.7, 76.0, 78.0, 74.0, 80.0, 73.0, 72.0,
              86.7, 82.8, 71.0, 78.3, 72.0, 95.3, 71.0, 73.5, 73.0, 72.5,
              70.5, 83.6, 70.0, 85.8, 84.0, 90.0, 72.0, 90.6]

BG = "cornsilk"
ENV_COLOR = "#f6d2c1"


def fmt_hm(x, pos):
    m = int(round(x))
    return f"{m // 60:02d}:{m % 60:02d}"


def fmt_hms(x, pos):
    m = int(round(x))
    return f"{m // 60:02d}:{m % 60:02d}:00"


def style_axis(ax, formatter, title):
    ax.set_facecolor(BG)
    ax.set_xlim(0, 1439)
    ax.set_ylim(24, 108)
    ax.xaxis.set_major_locator(MultipleLocator(120))
    ax.xaxis.set_minor_locator(MultipleLocator(30))
    ax.xaxis.set_major_formatter(FuncFormatter(formatter))
    ax.yaxis.set_major_locator(MultipleLocator(12))
    ax.yaxis.set_minor_locator(MultipleLocator(4))
    ax.grid(which="major", color="#aaaaaa", lw=1.1)
    ax.grid(which="minor", axis="y", color="#bbbbbb", ls="--", lw=0.7)
    ax.grid(which="minor", axis="x", color="#cccccc", ls=":", lw=0.7)
    ax.set_axisbelow(True)
    ax.tick_params(which="both", labelsize=7)
    ax.set_ylabel("dB SPL", fontsize=8)
    ax.set_xlabel("time", fontsize=8)
    ax.set_title(title, loc="left", fontsize=9, fontweight="bold", pad=6)
    twin = ax.twinx()
    twin.set_ylim(24, 108)
    twin.yaxis.set_major_locator(MultipleLocator(12))
    twin.yaxis.set_minor_locator(MultipleLocator(4))
    twin.tick_params(which="both", labelsize=7)
    twin.set_ylabel("dB SPL", fontsize=8)


fig = plt.figure(figsize=(24, 12), dpi=100)
fig.text(0.0095, 0.992, "data from [5002/mic0]\nstarting point is [20250717_000019]",
         fontsize=10, fontweight="bold", va="top", ha="left")

# top panel
ax1 = fig.add_axes([0.0246, 0.51, 0.9517, 0.42])
for tt, zz, cc, aa in [(peak_t, peak_z, peak_c, peak_a),
                       (peak2_t, peak2_z, peak2_c, peak2_a),
                       (spk_t, spk_z, spk_c, spk_a)]:
    ax1.plot(tt, zz, ".", color="dodgerblue", ms=3, alpha=0.9)
    ax1.plot(tt, cc, ".", color="magenta", ms=3, alpha=0.9)
    ax1.plot(tt, aa, ".", color="seagreen", ms=3, alpha=0.9)
ax1.plot(top_t, top_z, color="steelblue", lw=1.2)
ax1.plot(top_t, top_c, color="orchid", lw=1.2)
ax1.plot(top_t, top_a, color="yellowgreen", lw=1.2)
style_axis(ax1, fmt_hm, "average and peak noise level (1 min sampling)")
top_handles = [
    Line2D([], [], ls="", marker="o", ms=4, color="dodgerblue", label="peak dB(Z)"),
    Line2D([], [], ls="", marker="o", ms=4, color="magenta", label="peak dB(C)"),
    Line2D([], [], ls="", marker="o", ms=4, color="seagreen", label="peak dB(A)"),
    Line2D([], [], color="steelblue", lw=3, label="avg dB(Z)"),
    Line2D([], [], color="orchid", lw=3, label="avg dB(C)"),
    Line2D([], [], color="yellowgreen", lw=3, label="avg dB(A)"),
]
ax1.legend(handles=top_handles, ncol=2, loc="lower right", fontsize=7,
           facecolor=BG, edgecolor="burlywood", framealpha=1)

# bottom panel
ax2 = fig.add_axes([0.0246, 0.0417, 0.9517, 0.421])
ax2.fill_between(env_t, env_lo, env_hi, color=ENV_COLOR, lw=0)
spk_base = np.interp(env_spk_t, env_t, env_lo)
ax2.vlines(env_spk_t, spk_base, env_spk_hi, color=ENV_COLOR, lw=1.3)
ax2.plot(bot_t, bot_a, color="gold", lw=1.2)
ax2.plot(bot_t, bot_c, color="darkorange", lw=1.2)
ax2.plot(bot_t, bot_z, color="crimson", lw=1.2)
style_axis(ax2, fmt_hms, "average noise level (5 min with 15s min/max dB envelope)")
bot_handles = [
    Line2D([], [], color="crimson", lw=3, label="dB(Z)"),
    Line2D([], [], color="darkorange", lw=3, label="dB(C)"),
    Line2D([], [], color="gold", lw=3, label="dB(A)"),
]
ax2.legend(handles=bot_handles, loc="lower right", fontsize=7,
           facecolor=BG, edgecolor="burlywood", framealpha=1)

fig.savefig("out.png", dpi=100)
